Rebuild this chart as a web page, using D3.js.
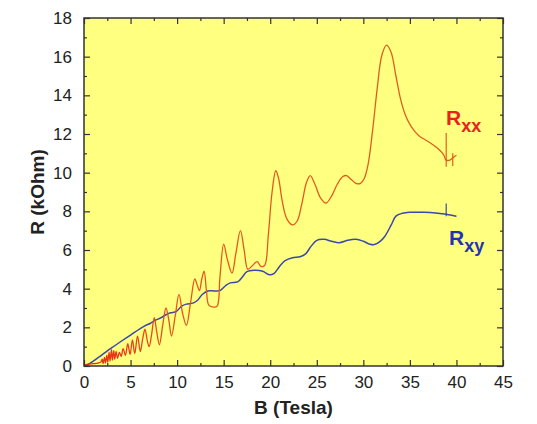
<!DOCTYPE html>
<html>
<head>
<meta charset="utf-8">
<script src="https://cdn.jsdelivr.net/npm/d3@7"></script>
<style>
  body { margin: 0; background: #fff; }
  svg { display: block; font-family: Arial, "Liberation Sans", sans-serif; }
</style>
</head>
<body>
<svg id="chart" width="537" height="424"></svg>
<script>
// magnetoresistance data: [B (T), R (kOhm)]
const rxx = [
  [0.0, 0.05], [0.5, 0.1], [1.0, 0.12], [1.5, 0.15], [1.8, 0.2],
  [1.95, 0.35], [2.05, 0.12], [2.2, 0.45], [2.3, 0.15], [2.45, 0.55], [2.55, 0.2],
  [2.7, 0.7], [2.8, 0.25], [2.95, 0.85], [3.05, 0.3], [3.2, 0.8], [3.3, 0.35],
  [3.45, 0.75], [3.6, 0.4], [3.8, 0.7], [4.0, 0.5],
  [4.2, 0.9], [4.45, 0.55], [4.7, 1.15], [4.95, 0.6], [5.2, 1.35], [5.45, 0.65],
  [5.75, 1.55], [6.05, 0.75], [6.3, 1.4], [6.55, 1.9], [6.8, 1.3], [7.0, 1.0],
  [7.25, 1.6], [7.55, 2.5], [7.8, 1.8], [8.1, 1.1], [8.45, 2.1], [8.8, 3.0],
  [9.1, 2.4], [9.4, 1.55], [9.8, 2.6], [10.2, 3.7], [10.6, 2.7], [11.0, 2.1],
  [11.45, 3.3], [11.9, 4.5], [12.15, 4.2], [12.4, 3.9], [12.65, 4.5], [12.9, 4.9],
  [13.15, 3.9], [13.4, 3.15], [13.9, 3.05], [14.3, 3.1], [14.6, 4.6], [15.0, 6.3],
  [15.4, 5.5], [15.9, 4.8], [16.3, 5.8], [16.8, 7.0], [17.2, 6.0], [17.6, 5.0],
  [18.1, 5.2], [18.6, 5.4], [19.0, 5.15], [19.4, 5.2], [19.8, 6.8], [20.2, 9.0],
  [20.6, 10.1], [20.9, 9.7], [21.3, 8.5], [21.8, 7.6], [22.4, 7.3], [22.9, 7.5],
  [23.4, 8.4], [23.9, 9.5], [24.3, 9.85], [24.8, 9.4], [25.4, 8.7], [26.0, 8.43],
  [26.6, 8.8], [27.2, 9.4], [27.8, 9.8], [28.2, 9.85], [28.7, 9.65], [29.2, 9.45],
  [29.7, 9.45], [30.1, 9.7], [30.5, 10.4], [31.0, 12.2], [31.5, 14.4], [32.0, 16.1],
  [32.5, 16.6], [33.0, 16.2], [33.5, 15.0], [34.0, 13.8], [34.5, 13.0], [35.0, 12.5],
  [35.5, 12.15], [36.0, 11.9], [37.0, 11.6], [38.0, 11.25], [38.6, 10.95], [38.9, 10.65],
  [39.3, 10.65], [39.7, 10.8], [40.0, 10.9]
];

const rxy = [
  [0.2, 0.0], [1.0, 0.25], [2.0, 0.6], [3.0, 0.95], [4.0, 1.28], [5.0, 1.6],
  [6.0, 1.92], [6.7, 2.12], [7.1, 2.2], [7.6, 2.35], [8.3, 2.5], [8.8, 2.65],
  [9.3, 2.75], [9.9, 2.82], [10.5, 3.1], [11.0, 3.2], [11.7, 3.25], [12.2, 3.4],
  [12.7, 3.7], [13.3, 3.88], [14.0, 3.88], [14.6, 3.9], [15.2, 4.15], [15.7, 4.3],
  [16.5, 4.35], [17.0, 4.6], [17.5, 4.88], [18.3, 4.95], [19.2, 4.9], [19.9, 4.72],
  [20.4, 4.78], [21.0, 5.15], [21.6, 5.45], [22.4, 5.6], [23.2, 5.65], [23.8, 5.8],
  [24.4, 6.2], [25.0, 6.5], [25.8, 6.55], [26.6, 6.45], [27.4, 6.38], [28.3, 6.5],
  [29.2, 6.55], [30.0, 6.45], [30.7, 6.3], [31.2, 6.28], [31.8, 6.45], [32.3, 6.7],
  [33.0, 7.3], [33.5, 7.75], [34.2, 7.9], [35.0, 7.95], [36.5, 7.95], [38.0, 7.9],
  [38.9, 7.85], [39.5, 7.8], [40.0, 7.75]
];

// little vertical glitches near 39 T
const rxxSpikes = [
  [[38.9, 12.05], [38.9, 10.3]],
  [[39.6, 11.0], [39.6, 10.35]]
];
const rxySpikes = [
  [[38.9, 8.4], [38.9, 7.75]]
];

const xTicks = [0, 5, 10, 15, 20, 25, 30, 35, 40, 45];
const yTicks = [0, 2, 4, 6, 8, 10, 12, 14, 16, 18];

const svg = d3.select('#chart');
const margin = { left: 84, right: 34, top: 18, bottom: 58 };
const width = 537 - margin.left - margin.right;
const height = 424 - margin.top - margin.bottom;

const x = d3.scaleLinear().domain([0, 45]).range([0, width]);
const y = d3.scaleLinear().domain([0, 18]).range([height, 0]);

// Rxx trace is redder at low field, more orange at high field
const grad = svg.append('defs').append('linearGradient')
    .attr('id', 'rxxColor')
    .attr('gradientUnits', 'userSpaceOnUse')
    .attr('x1', x(0)).attr('x2', x(40))
    .attr('y1', 0).attr('y2', 0);
grad.append('stop').attr('offset', '0%').attr('stop-color', '#E82A14');
grad.append('stop').attr('offset', '25%').attr('stop-color', '#E4561C');
grad.append('stop').attr('offset', '100%').attr('stop-color', '#DE6020');

const g = svg.append('g')
    .attr('transform', `translate(${margin.left},${margin.top})`);

// yellow plot background
g.append('rect')
    .attr('width', width)
    .attr('height', height)
    .attr('fill', '#FFFF80');

// curves
const line = d3.line()
    .x(d => x(d[0]))
    .y(d => y(d[1]))
    .curve(d3.curveCatmullRom.alpha(0.5));

const straight = d3.line()
    .x(d => x(d[0]))
    .y(d => y(d[1]));

g.append('path')
    .datum(rxy)
    .attr('fill', 'none')
    .attr('stroke', '#3A48A8')
    .attr('stroke-width', 1.5)
    .attr('d', line);

g.append('path')
    .datum(rxx)
    .attr('fill', 'none')
    .attr('stroke', 'url(#rxxColor)')
    .attr('stroke-width', 1.3)
    .attr('d', line);

g.selectAll('.rxx-spike')
    .data(rxxSpikes)
    .enter()
    .append('path')
    .attr('class', 'rxx-spike')
    .attr('fill', 'none')
    .attr('stroke', '#DE6020')
    .attr('stroke-width', 1.2)
    .attr('d', straight);

g.selectAll('.rxy-spike')
    .data(rxySpikes)
    .enter()
    .append('path')
    .attr('class', 'rxy-spike')
    .attr('fill', 'none')
    .attr('stroke', '#3A48A8')
    .attr('stroke-width', 1.2)
    .attr('d', straight);

// axes: inward ticks on all four sides, labels only left and bottom
const xMinor = d3.range(0, 45.01, 2.5).filter(v => v % 5 !== 0);
const yMinor = d3.range(1, 18, 2);

function drawAxis(axis, transform, showLabels) {
    const a = g.append('g')
        .attr('transform', transform)
        .call(axis);
    a.select('.domain').remove();
    a.selectAll('line').attr('stroke', '#333').attr('stroke-width', 1.2);
    a.selectAll('text')
        .attr('font-size', '17px')
        .attr('fill', '#222')
        .style('display', showLabels ? null : 'none');
    return a;
}

drawAxis(d3.axisBottom(x).tickValues(xTicks).tickSizeInner(-6).tickPadding(10), `translate(0,${height})`, true);
drawAxis(d3.axisBottom(x).tickValues(xMinor).tickSizeInner(-3).tickFormat(''), `translate(0,${height})`, false);
drawAxis(d3.axisTop(x).tickValues(xTicks).tickSizeInner(-6), 'translate(0,0)', false);
drawAxis(d3.axisTop(x).tickValues(xMinor).tickSizeInner(-3), 'translate(0,0)', false);
drawAxis(d3.axisLeft(y).tickValues(yTicks).tickSizeInner(-6).tickPadding(12), 'translate(0,0)', true);
drawAxis(d3.axisLeft(y).tickValues(yMinor).tickSizeInner(-3), 'translate(0,0)', false);
drawAxis(d3.axisRight(y).tickValues(yTicks).tickSizeInner(-6), `translate(${width},0)`, false);
drawAxis(d3.axisRight(y).tickValues(yMinor).tickSizeInner(-3), `translate(${width},0)`, false);

// frame
g.append('rect')
    .attr('width', width)
    .attr('height', height)
    .attr('fill', 'none')
    .attr('stroke', '#333')
    .attr('stroke-width', 1.5);

// axis titles
svg.append('text')
    .attr('x', margin.left + width / 2)
    .attr('y', 414)
    .attr('text-anchor', 'middle')
    .attr('font-size', '19px')
    .attr('font-weight', 'bold')
    .attr('fill', '#222')
    .text('B (Tesla)');

svg.append('text')
    .attr('transform', `translate(44,${margin.top + height / 2}) rotate(-90)`)
    .attr('text-anchor', 'middle')
    .attr('font-size', '19px')
    .attr('font-weight', 'bold')
    .attr('fill', '#222')
    .text('R (kOhm)');

// curve labels
function curveLabel(px, py, sub, color) {
    const t = svg.append('text')
        .attr('x', px)
        .attr('y', py)
        .attr('font-weight', 'bold')
        .attr('fill', color);
    t.append('tspan').attr('font-size', '21px').text('R');
    t.append('tspan').attr('font-size', '18px').attr('dy', 7).text(sub);
}

curveLabel(446, 125, 'xx', '#E8231C');
curveLabel(449, 245, 'xy', '#2332B5');
</script>
</body>
</html>
